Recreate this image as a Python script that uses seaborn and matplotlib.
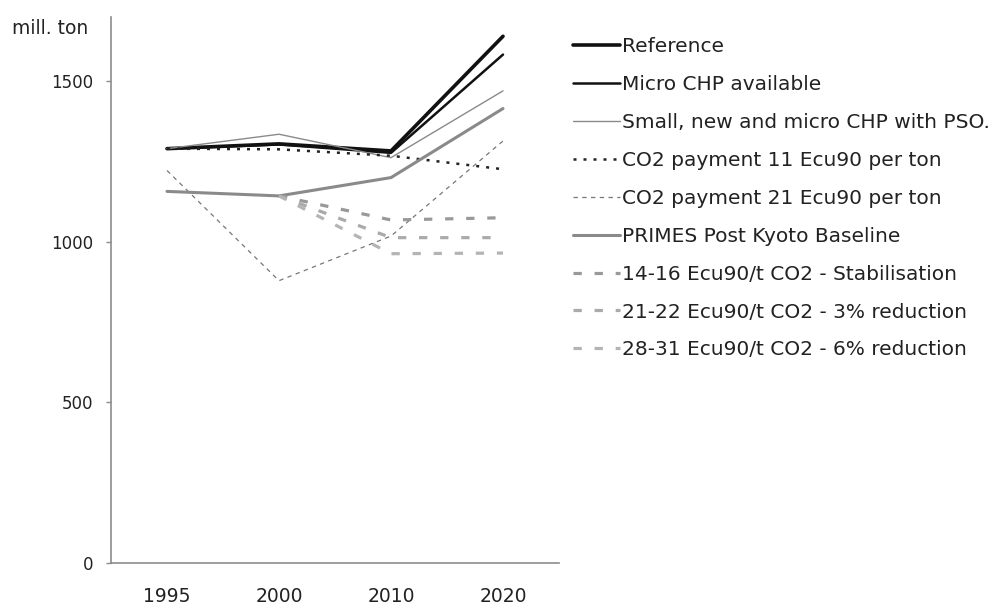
import matplotlib
matplotlib.use("Agg")
import matplotlib.pyplot as plt
import seaborn as sns
import pandas as pd
import numpy as np

# Emissions scenarios, mill. ton
years = ["1995", "2000", "2010", "2020"]
reference = [1290, 1305, 1283, 1640]
micro_chp = [1290, 1303, 1277, 1583]
small_new_micro_pso = [1290, 1335, 1262, 1470]
co2_11 = [1290, 1288, 1268, 1226]
co2_21 = [1222, 879, 1018, 1314]
primes_baseline = [1157, 1143, 1200, 1415]
stab_14_16 = [np.nan, 1143, 1068, 1075]
red3_21_22 = [np.nan, 1143, 1013, 1013]
red6_28_31 = [np.nan, 1143, 963, 965]

labels = [
    "Reference",
    "Micro CHP available",
    "Small, new and micro CHP with PSO.",
    "CO2 payment 11 Ecu90 per ton",
    "CO2 payment 21 Ecu90 per ton",
    "PRIMES Post Kyoto Baseline",
    "14-16 Ecu90/t CO2 - Stabilisation",
    "21-22 Ecu90/t CO2 - 3% reduction",
    "28-31 Ecu90/t CO2 - 6% reduction",
]
series = [reference, micro_chp, small_new_micro_pso, co2_11, co2_21,
          primes_baseline, stab_14_16, red3_21_22, red6_28_31]

styles = [
    dict(color="#111111", lw=2.6, ls="-"),
    dict(color="#111111", lw=1.8, ls="-"),
    dict(color="#8a8a8a", lw=1.0, ls="-"),
    dict(color="#222222", lw=1.8, ls=(0, (1.2, 2.8))),
    dict(color="#777777", lw=0.9, ls=(0, (3.5, 3.5))),
    dict(color="#8a8a8a", lw=2.2, ls="-"),
    dict(color="#999999", lw=2.3, ls=(0, (2.6, 4.0))),
    dict(color="#aaaaaa", lw=2.3, ls=(0, (2.6, 4.0))),
    dict(color="#b4b4b4", lw=2.3, ls=(0, (2.6, 4.0))),
]

sns.set_theme(style="white")
plt.rcParams["font.family"] = ["DejaVu Sans"]

fig = plt.figure(figsize=(10.03, 6.08), dpi=100)
ax = fig.add_axes([111 / 1003, 1 - 563 / 608, (559 - 111) / 1003, (563 - 17) / 608])

for vals, lab, st in zip(series, labels, styles):
    df = pd.DataFrame({"year": years, "value": vals})
    sns.lineplot(data=df, x="year", y="value", ax=ax, label=lab,
                 color=st["color"], linewidth=st["lw"], linestyle=st["ls"],
                 sort=False)

ax.set_xlim(-0.5, 3.5)
ax.set_ylim(0, 1700)
ax.set_yticks([0, 500, 1000, 1500])
ax.set_xlabel("")
ax.set_ylabel("")

for side in ["top", "right"]:
    ax.spines[side].set_visible(False)
for side in ["left", "bottom"]:
    ax.spines[side].set_color("#8c8c8c")
    ax.spines[side].set_linewidth(1.2)

ax.tick_params(axis="y", which="both", left=True, length=3.6, width=1,
               color="#8c8c8c", pad=9, labelsize=12, labelcolor="#222222")
ax.tick_params(axis="x", which="both", bottom=False, length=0, pad=17,
               labelsize=13.5, labelcolor="#222222")

fig.text(12 / 1003, 1 - 28 / 608, "mill. ton", fontsize=13.5, color="#222222",
         ha="left", va="center")

handles, labs = ax.get_legend_handles_labels()
leg = ax.legend(handles, labs, loc="upper left",
                bbox_to_anchor=(573 / 1003, 1 - 37 / 608),
                bbox_transform=fig.transFigure, frameon=False,
                fontsize=14.5, handlelength=2.34, handletextpad=0.1,
                labelspacing=0.94, borderaxespad=0, borderpad=0)
for t in leg.get_texts():
    t.set_color("#222222")

fig.savefig("out.png", dpi=100)
